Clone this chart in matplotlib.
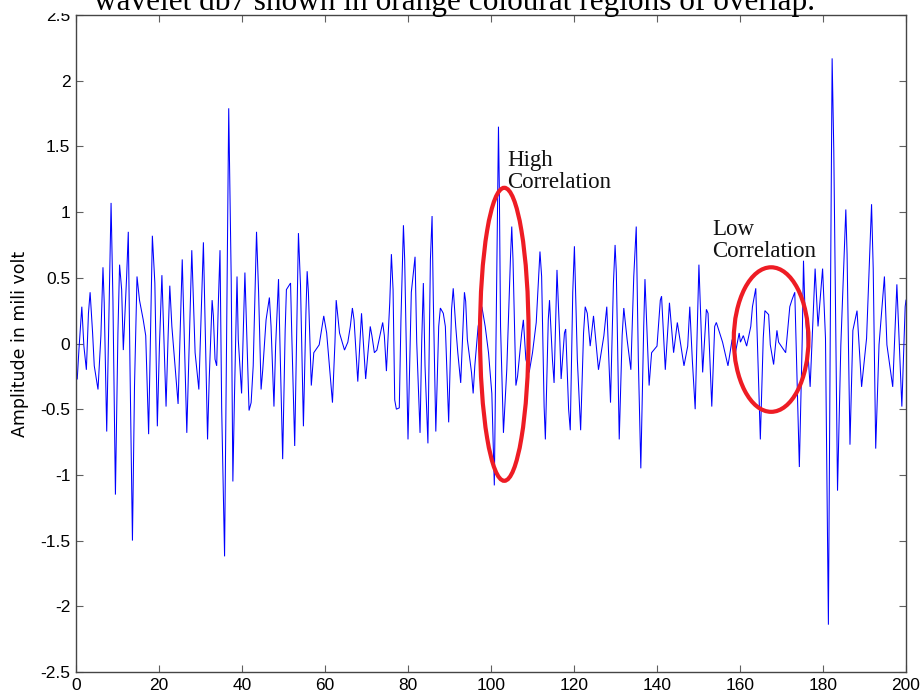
import matplotlib
matplotlib.use("Agg")
import matplotlib.pyplot as plt
from matplotlib.patches import Ellipse, Rectangle

# Sample positions (time index) of the filtered signal
t = [
    0.3, 0.7, 1.4, 1.9, 2.5, 3.0, 3.4, 4.0, 4.4, 5.3, 6.0, 6.5, 6.8, 7.4, 7.8,
    8.45, 8.9, 9.5, 10.1, 10.5, 11.0, 11.4, 12.2, 12.6, 13.0, 13.6, 14.1, 14.7,
    15.3, 16.2, 16.8, 17.5, 18.4, 19.0, 19.6, 20.1, 20.7, 21.7, 22.2, 22.6,
    23.1, 24.6, 25.6, 26.7, 27.9, 28.7, 29.6, 30.7, 31.7,
    32.1, 32.8, 33.1, 33.5, 33.9, 34.3, 34.7, 35.1, 35.8, 36.3, 36.8, 37.4,
    37.8, 38.2, 38.8, 39.1, 39.9, 40.7, 41.0, 41.7, 42.2, 42.7, 43.5, 44.0,
    44.6, 45.0, 45.8, 46.6, 47.0, 47.7, 48.1, 48.8, 49.1, 49.8, 50.4, 50.7,
    51.7, 52.0, 52.7, 53.3, 53.6, 54.1, 54.8, 55.4, 55.7, 56.0, 56.7, 57.3,
    58.6, 59.7, 60.4, 61.8, 62.4, 62.7, 63.5,
    64.7, 65.5, 66.1, 66.6, 67.0, 67.9, 68.8, 69.8, 70.9, 71.3, 71.9, 72.5,
    73.9, 74.3, 74.8, 75.6, 76.0, 76.4, 76.8, 77.2, 77.9, 78.3, 78.9, 79.2,
    80.0, 80.8, 81.7, 82.1, 82.9, 83.3, 83.7, 84.1, 84.8, 85.4, 85.8, 86.1,
    86.7, 87.4, 87.8, 88.5, 89.0, 89.8, 90.5, 90.9, 91.5, 92.0, 92.7, 93.6,
    93.9, 94.3, 95.3, 95.7, 96.1, 96.9,
    97.8, 98.6, 99.4, 100.2, 100.8, 101.1, 101.5, 101.8, 102.0, 102.3, 103.0,
    103.8, 104.7, 105.0, 105.3, 106.0, 106.4, 107.4, 107.8, 108.4, 109.2,
    110.0, 110.9, 111.8, 112.2, 112.8, 113.1, 113.8, 114.1, 114.8, 115.2,
    115.9, 116.6, 116.9, 117.7, 118.0, 118.7, 119.1, 119.7, 120.1, 120.8,
    121.6, 122.3, 122.7, 123.2, 123.9, 124.7, 125.9, 127.2, 127.9, 128.8,
    129.5, 129.9, 130.2, 130.9, 131.6, 132.0, 132.8, 133.7, 134.4, 135.0,
    135.5, 136.1, 136.8, 137.1, 137.8, 138.1, 138.7, 140.0, 140.8, 141.1,
    142.0, 143.0, 144.0, 144.9, 146.5, 147.4, 147.9, 148.5, 149.2, 150.1,
    151.0, 151.9, 152.3, 153.2, 153.9, 154.3, 155.8, 157.1, 158.1, 158.9,
    159.8, 160.1, 160.8, 161.6, 162.6,
    163.0, 163.8, 164.1, 164.9, 165.6, 166.0, 166.9, 167.3, 168.1, 168.9,
    169.3, 171.0, 172.0, 172.5, 173.2, 174.3, 175.0, 175.3, 175.6, 176.9,
    177.7, 178.1, 178.8, 179.9, 180.6, 181.3, 181.8, 182.2, 182.6, 183.5,
    184.3, 185.5, 185.8, 186.5, 187.2, 188.2, 189.3, 190.5, 191.7, 192.1,
    192.7, 193.5, 194.8, 195.4, 196.8, 197.8, 199.0, 199.8, 200.0,
]

# Signal amplitude in millivolts at each sample position
amplitude = [
    -0.27, -0.05, 0.28, -0.02, -0.20, 0.23, 0.39, 0.08, -0.17, -0.35, 0.06,
    0.58, 0.31, -0.67, -0.02, 1.07, 0.33, -1.15, 0.08, 0.60, 0.41, -0.05,
    0.51, 0.85, -0.15, -1.50, -0.32, 0.51, 0.33, 0.18, 0.06, -0.69, 0.82,
    0.46, -0.63, -0.02, 0.52, -0.48, 0.06, 0.44, 0.13, -0.46, 0.64, -0.68,
    0.71, -0.07, -0.35, 0.77, -0.73,
    -0.27, 0.33, 0.21, -0.12, -0.17, 0.31, 0.71, -0.49, -1.62, 0.06, 1.79,
    0.49, -1.05, -0.38, 0.51, 0.03, -0.38, 0.54, 0.23, -0.51, -0.45, -0.17,
    0.85, 0.39, -0.35, -0.20, 0.18, 0.35, 0.13, -0.48, -0.02, 0.49, 0.06,
    -0.88, 0.10, 0.41, 0.46, 0.06, -0.78, 0.33, 0.84, 0.44, -0.63, 0.23,
    0.55, 0.39, -0.32, -0.07, -0.01, 0.21, 0.08, -0.45, 0.01, 0.33, 0.08,
    -0.05, 0.01, 0.13, 0.27, 0.18, -0.29, 0.23, -0.27, 0.13, 0.06, -0.07,
    -0.05, 0.16, 0.06, -0.21, 0.31, 0.68, 0.41, -0.43, -0.50, -0.49, 0.18,
    0.90, 0.64, -0.73, 0.39, 0.66, 0.01, -0.68, 0.01, 0.46, -0.17, -0.76,
    0.64, 0.97, 0.33, -0.67, 0.13, 0.27, 0.23, 0.13, -0.60, 0.26, 0.42,
    0.13, -0.07, -0.30, 0.39, 0.32, 0.03, -0.22, -0.38, -0.17, 0.13,
    0.28, 0.13, -0.07, -0.38, -1.08, -0.25, 0.82, 1.65, 1.20, 0.13, -0.68,
    -0.20, 0.66, 0.89, 0.64, -0.32, -0.25, 0.08, 0.18, -0.12, -0.22, -0.07,
    0.16, 0.70, 0.51, -0.48, -0.73, 0.18, 0.33, -0.12, -0.30, 0.56, 0.01,
    -0.27, 0.08, 0.11, -0.50, -0.66, 0.39, 0.74, -0.12, -0.66, 0.08, 0.28,
    0.23, -0.02, 0.21, -0.20, 0.06, 0.28, -0.45,
    0.46, 0.75, 0.54, -0.73, 0.06, 0.27, 0.03, -0.20, 0.51, 0.89, -0.12,
    -0.95, 0.13, 0.49, -0.07, -0.32, -0.07, -0.02, 0.33, 0.36, -0.20, 0.31,
    -0.07, 0.16, -0.17, -0.02, 0.28, -0.12, -0.50, 0.60, -0.22, 0.26, 0.23,
    -0.48, 0.13, 0.16, 0.01, -0.17, 0.03, -0.07, 0.08, 0.01, 0.06, -0.02,
    0.13,
    0.28, 0.42, 0.10, -0.73, 0.04, 0.25, 0.22, -0.01, -0.16, 0.10, 0.01,
    -0.07, 0.28, 0.33, 0.39, -0.94, 0.04, 0.63, 0.31, -0.33, 0.28, 0.57,
    0.13, 0.57, 0.04, -2.14, 0.33, 2.17, 1.47, -1.12, -0.01, 1.02, 0.68,
    -0.77, 0.10, 0.25, -0.33, 0.04, 1.06, 0.57, -0.80, -0.01, 0.51, -0.01,
    -0.33, 0.45, -0.48, 0.28, 0.33,
]

x_ticks = [0, 20, 40, 60, 80, 100, 120, 140, 160, 180, 200]
y_ticks = [-2.5, -2, -1.5, -1, -0.5, 0, 0.5, 1, 1.5, 2, 2.5]
y_label = "Amplitude in mili volt"
caption = "wavelet db7 shown in orange colourat regions of overlap."

# Highlighted regions: (centre x, centre y, width, height, label, label x,
# baseline of the label's last line)
regions = [
    (103.2, 0.07, 11.7, 2.23, "High\nCorrelation", 104.0, 1.18),
    (167.5, 0.03, 18.0, 1.10, "Low\nCorrelation", 153.4, 0.655),
]

W, H = 922, 695
fig = plt.figure(figsize=(W / 100, H / 100), dpi=100)
ax = fig.add_axes([76 / W, 23 / H, 830 / W, 657 / H])

ax.plot(t, amplitude, color="#0000ff", lw=0.75, solid_joinstyle="miter")

ax.set_xlim(0, 200)
ax.set_ylim(-2.5, 2.5)
ax.set_xticks(x_ticks)
ax.set_yticks(y_ticks)
ax.set_xticklabels([f"{v:g}" for v in x_ticks])
ax.set_yticklabels([f"{v:g}" for v in y_ticks])

for lab in ax.get_xticklabels() + ax.get_yticklabels():
    lab.set_fontfamily("Liberation Sans")
    lab.set_fontsize(12.5)

ax.tick_params(direction="in", top=True, right=True, length=5, width=0.8,
               color="#606060", labelcolor="black")
ax.tick_params(axis="x", pad=4)
ax.tick_params(axis="y", pad=4)
for sp in ax.spines.values():
    sp.set_color("#454545")
    sp.set_linewidth(1.0)

ax.set_ylabel(y_label, family="DejaVu Sans", fontsize=12.5, labelpad=8)

for cx, cy, w, h, label, lx, ly in regions:
    ax.add_patch(Ellipse((cx, cy), w, h, fill=False, ec="#ee1c24", lw=3,
                         zorder=4))
    ax.text(lx, ly, label, family="Liberation Serif", fontsize=16.5,
            ha="left", va="baseline", linespacing=1.12, color="#111111",
            zorder=5)

# Page strip above the axes, with the caption line running off the top
fig.patches.append(Rectangle((0, 1 - 12 / H), 1, 12 / H,
                             transform=fig.transFigure, color="white",
                             zorder=2))
fig.text(94 / W, 1 - 10 / H, caption, family="Liberation Serif",
         fontsize=22.5, ha="left", va="baseline", color="black", zorder=3)

fig.savefig("out.png", dpi=100)
